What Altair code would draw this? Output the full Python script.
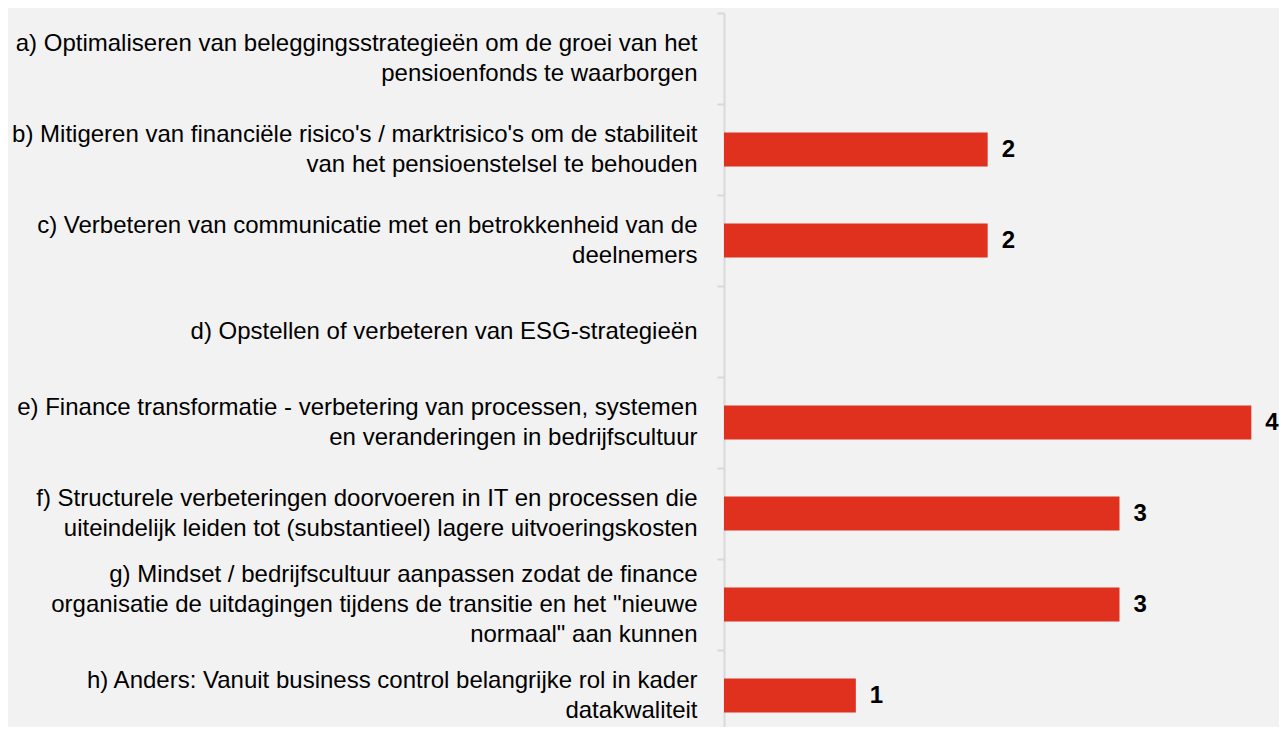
import altair as alt
import pandas as pd

categories = [
    "a) Optimaliseren van beleggingsstrategieën om de groei van het|pensioenfonds te waarborgen",
    "b) Mitigeren van financiële risico's / marktrisico's om de stabiliteit|van het pensioenstelsel te behouden",
    "c) Verbeteren van communicatie met en betrokkenheid van de|deelnemers",
    "d) Opstellen of verbeteren van ESG-strategieën",
    "e) Finance transformatie - verbetering van processen, systemen|en veranderingen in bedrijfscultuur",
    "f) Structurele verbeteringen doorvoeren in IT en processen die|uiteindelijk leiden tot (substantieel) lagere uitvoeringskosten",
    "g) Mindset / bedrijfscultuur aanpassen zodat de finance|organisatie de uitdagingen tijdens de transitie en het \"nieuwe|normaal\" aan kunnen",
    "h) Anders: Vanuit business control belangrijke rol in kader|datakwaliteit",
]
values = [0, 2, 2, 0, 4, 3, 3, 1]

df = pd.DataFrame({"categorie": categories, "aantal": values})

RED = "#E0301E"
FONT = "Liberation Sans"
LINE_H = 30

y_enc = alt.Y(
    "categorie:N",
    sort=categories,
    title=None,
    scale=alt.Scale(paddingInner=0, paddingOuter=0, range=[0, 728]),
    axis=alt.Axis(
        labelExpr="split(datum.label, '|')",
        labelFont=FONT,
        labelFontSize=24,
        labelLineHeight=LINE_H,
        labelColor="#000000",
        labelLimit=900,
        labelPadding=20,
        labelAlign="right",
        labelBaseline="middle",
        labelOffset={
            "condition": [
                {"test": "length(split(datum.label, '|')) == 3", "value": -LINE_H},
                {"test": "length(split(datum.label, '|')) == 2", "value": -LINE_H / 2},
            ],
            "value": 0,
        },
        tickBand="extent",
        tickSize=7,
        tickColor="#d9d9d9",
        tickWidth=2,
        domainColor="#d9d9d9",
        domainWidth=2,
        grid=False,
    ),
)

x_enc = alt.X(
    "aantal:Q",
    axis=None,
    scale=alt.Scale(domain=[0, 4.21], nice=False, zero=True),
)

bars = alt.Chart(df).mark_bar(color=RED, size=34).encode(x=x_enc, y=y_enc)

labels = (
    alt.Chart(df)
    .transform_filter("datum.aantal > 0")
    .mark_text(
        align="left",
        baseline="middle",
        dx=14,
        font=FONT,
        fontSize=24,
        fontWeight="bold",
        color="#000000",
    )
    .encode(x=x_enc, y=y_enc, text="aantal:Q")
)

chart = (
    alt.layer(bars, labels)
    .properties(
        width=555,
        height=714,
        background="#f2f2f2",
        autosize=alt.AutoSizeParams(type="none"),
        padding={"left": 716, "top": 5, "right": 0, "bottom": 0},
    )
    .configure_view(stroke=None)
)

chart.save("out.html", embed_options={"renderer": "svg", "actions": False})
